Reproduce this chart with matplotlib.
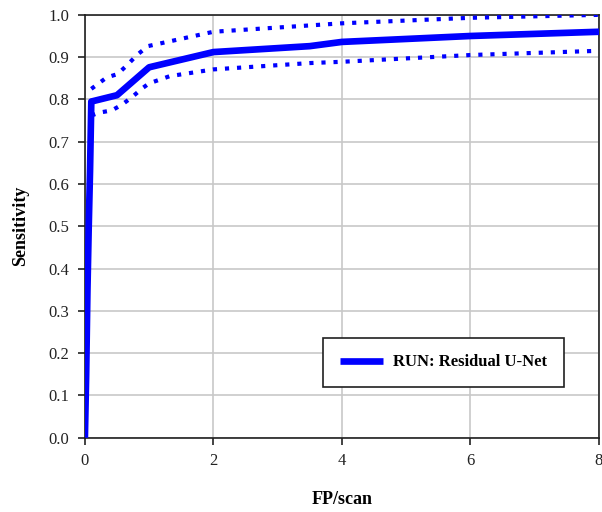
import matplotlib
matplotlib.use("Agg")
import matplotlib.pyplot as plt

plt.rcParams['font.family'] = ['Liberation Serif', 'DejaVu Serif']

# FROC curve for RUN: Residual U-Net
fp_main = [0.0, 0.02, 0.04, 0.06, 0.08, 0.1, 0.5, 1.0, 2.0, 3.5, 4.0, 6.0, 8.0]
sens_main = [0.0, 0.15, 0.35, 0.5, 0.63, 0.795, 0.81, 0.876, 0.912, 0.926, 0.936, 0.95, 0.96]

# confidence band, upper and lower
fp_upper = [0.1, 0.34, 0.51, 0.67, 0.81, 0.98, 1.28, 2.0, 3.5, 4.0, 6.0, 8.0]
sens_upper = [0.825, 0.852, 0.86, 0.883, 0.905, 0.926, 0.936, 0.96, 0.975, 0.98, 0.993, 1.0]
fp_lower = [0.1, 0.23, 0.42, 0.58, 0.73, 0.89, 1.0, 1.32, 2.0, 3.5, 4.0, 6.0, 8.0]
sens_lower = [0.762, 0.769, 0.774, 0.788, 0.805, 0.826, 0.838, 0.855, 0.871, 0.886, 0.889, 0.905, 0.915]

blue = '#0000ff'

fig = plt.figure(figsize=(6.02, 5.12), dpi=100)
ax = fig.add_axes([0.141, 0.145, 0.854, 0.826])

ax.plot(fp_main, sens_main, color=blue, linewidth=4.8, solid_capstyle='butt',
        label='RUN: Residual U-Net', zorder=3)
ax.plot(fp_upper, sens_upper, color=blue, linewidth=3, linestyle=(0, (1, 1.9)), zorder=3)
ax.plot(fp_lower, sens_lower, color=blue, linewidth=3, linestyle=(0, (1, 1.9)), zorder=3)

ax.set_xlim(0, 8)
ax.set_ylim(0, 1.0)
ax.set_xticks([0, 2, 4, 6, 8])
ax.set_yticks([i / 10 for i in range(11)])
ax.set_yticklabels(['%.1f' % (i / 10) for i in range(11)])
ax.grid(True, color='#c8c8c8', linewidth=1.2)
ax.set_axisbelow(True)
for s in ax.spines.values():
    s.set_color('#202020')
    s.set_linewidth(1.2)
ax.tick_params(direction='out', length=5, width=1.2, labelsize=12, colors='#222222', pad=6)

ax.set_xlabel('FP/scan', fontsize=13, fontweight='bold', labelpad=16)
ax.set_ylabel('Sensitivity', fontsize=13, fontweight='bold', labelpad=14)

leg = ax.legend(loc='lower left', bbox_to_anchor=(0.463, 0.12), borderaxespad=0,
                fancybox=False, edgecolor='#202020', framealpha=1, borderpad=1.0,
                handlelength=2.6, handletextpad=0.6,
                prop={'weight': 'bold', 'size': 12})
leg.get_frame().set_linewidth(1.2)

plt.savefig('out.png')
